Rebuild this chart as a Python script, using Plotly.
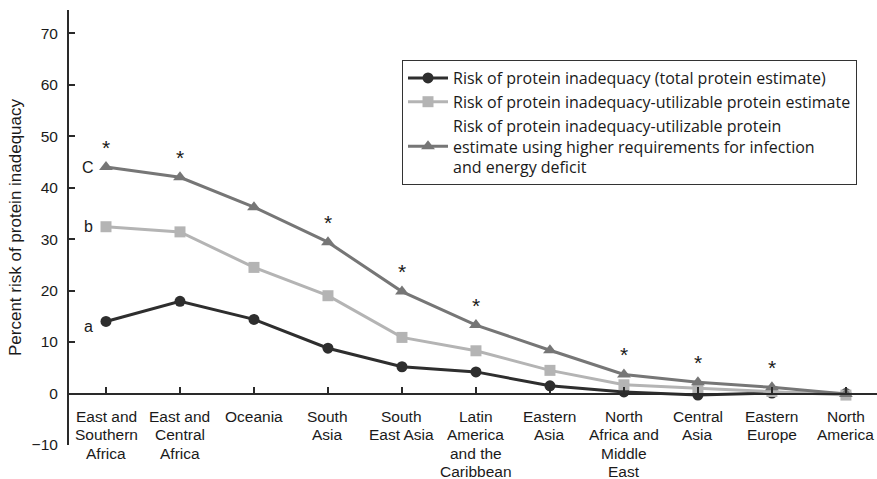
import plotly.graph_objects as go

categories = [
    ["East and", "Southern", "Africa"],
    ["East and", "Central", "Africa"],
    ["Oceania"],
    ["South", "Asia"],
    ["South", "East Asia"],
    ["Latin", "America", "and the", "Caribbean"],
    ["Eastern", "Asia"],
    ["North", "Africa and", "Middle", "East"],
    ["Central", "Asia"],
    ["Eastern", "Europe"],
    ["North", "America"],
]
total_protein = [14.0, 17.9, 14.4, 8.8, 5.2, 4.2, 1.5, 0.3, -0.3, 0.1, 0.0]
utilizable = [32.4, 31.4, 24.5, 19.0, 10.9, 8.3, 4.5, 1.7, 1.0, 0.4, -0.3]
higher_req = [44.0, 42.0, 36.2, 29.4, 19.8, 13.3, 8.4, 3.7, 2.2, 1.2, -0.1]
significant = [True, True, False, True, True, True, False, True, True, True, False]

names = [
    "Risk of protein inadequacy (total protein estimate)",
    "Risk of protein inadequacy-utilizable protein estimate",
    "Risk of protein inadequacy-utilizable protein<br>estimate using higher requirements for infection<br>and energy deficit",
]
letters = ["a", "b", "C"]

y_tickvals = [-10, 0, 10, 20, 30, 40, 50, 60, 70]
y_range = [-10, 74.5]

FONT = "Liberation Sans, Arial, Helvetica, sans-serif"
LEG_FONT = "Open Sans, Liberation Sans, Arial, sans-serif"
TXT = "#1a1a1a"
c_dark, c_light, c_mid = "#2e2e2e", "#b4b4b4", "#767676"

x = list(range(len(categories)))
fig = go.Figure()
series = [
    (total_protein, c_dark, "circle", 11),
    (utilizable, c_light, "square", 11),
    (higher_req, c_mid, "triangle-up", 12),
]
for (vals, col, sym, sz), nm in zip(series, names):
    fig.add_trace(go.Scatter(
        x=x, y=vals, mode="lines+markers", name=nm,
        line=dict(color=col, width=3),
        marker=dict(symbol=sym, size=sz, color=col),
    ))

annotations = []
for i, s in enumerate(significant):
    if s:
        annotations.append(dict(x=x[i], y=higher_req[i], xref="x", yref="y",
                                text="*", showarrow=False, yshift=20,
                                font=dict(size=21, color=TXT, family=FONT)))
for vals, lt in zip([total_protein, utilizable, higher_req], letters):
    annotations.append(dict(x=x[0], y=vals[0], xref="x", yref="y", text=lt,
                            showarrow=False, xshift=-18, yshift=-5 if lt == "a" else 0,
                            font=dict(size=16, color=TXT, family=FONT)))
# multi-line category labels under the zero axis
for i, lines in enumerate(categories):
    for k, ln in enumerate(lines):
        annotations.append(dict(x=x[i], y=0, xref="x", yref="y", text=ln,
                                showarrow=False, yanchor="middle",
                                yshift=-(23 + 18.3 * k),
                                font=dict(size=15.5, color=TXT, family=FONT)))

zero_pos = (0 - y_range[0]) / (y_range[1] - y_range[0])

fig.update_layout(
    width=877, height=479,
    margin=dict(l=69, r=0, t=10, b=34),
    paper_bgcolor="white", plot_bgcolor="white",
    font=dict(family=FONT, size=16, color=TXT),
    showlegend=True,
    legend=dict(x=(402 - 69) / 808, y=1 - 50 / 435, xanchor="left", yanchor="top",
                bordercolor="#333333", borderwidth=1, bgcolor="white",
                font=dict(size=16, family=LEG_FONT, color=TXT), tracegroupgap=0,
                itemwidth=40),
    xaxis=dict(
        tickmode="array", tickvals=x, ticktext=[""] * len(x),
        range=[-0.5, 10.42], anchor="free", position=zero_pos,
        showline=True, linecolor="#2a2a2a", linewidth=2,
        ticks="inside", tickson="boundaries", ticklen=6, tickcolor="#2a2a2a", tickwidth=2,
        showgrid=False, zeroline=False,
    ),
    yaxis=dict(
        range=y_range, tickvals=y_tickvals,
        showline=True, linecolor="#2a2a2a", linewidth=2,
        ticks="inside", ticklen=6, tickcolor="#2a2a2a", tickwidth=2,
        ticklabelstandoff=6,
        showgrid=False, zeroline=False, tickfont=dict(size=15.5, family=FONT, color=TXT),
        title=dict(text="Percent risk of protein inadequacy",
                   font=dict(size=17, family=FONT, color=TXT), standoff=6),
    ),
    annotations=annotations,
)
fig.write_html("out.html")
